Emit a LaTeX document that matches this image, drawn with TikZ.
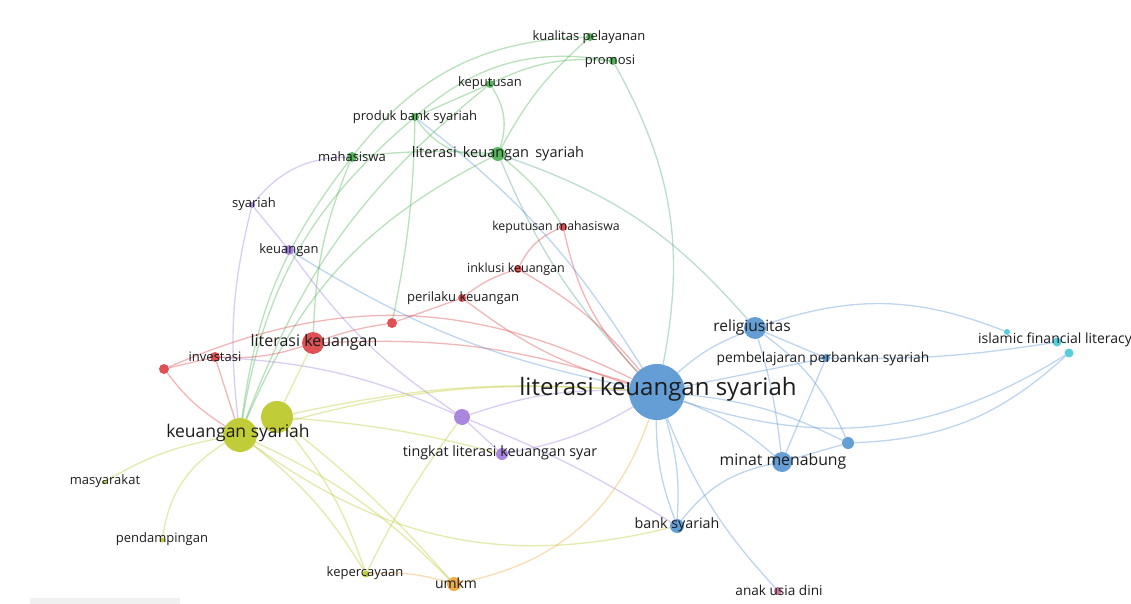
\documentclass[tikz,border=0pt]{standalone}
\usepackage{fontspec}
\setmainfont{Open Sans}
\usetikzlibrary{backgrounds}

\definecolor{vblue}{RGB}{84,146,208}
\definecolor{vgreen}{RGB}{70,175,76}
\definecolor{vred}{RGB}{218,62,66}
\definecolor{vpurple}{RGB}{160,122,220}
\definecolor{vyellow}{RGB}{186,198,36}
\definecolor{vorange}{RGB}{236,166,52}
\definecolor{vcyan}{RGB}{72,200,216}
\definecolor{vpink}{RGB}{196,112,150}
\definecolor{lbltext}{RGB}{28,28,28}

\begin{document}
\begin{tikzpicture}[x=1pt,y=-1pt]
\tikzstyle{kw}=[circle,inner sep=0pt,draw=none,opacity=0.9]
\tikzstyle{lbl}=[inner sep=0pt,text=lbltext,font=\fontsize{13}{13}\selectfont]
\tikzstyle{link}=[line width=1.3pt,opacity=0.38]
\useasboundingbox (0,0) rectangle (1131,604);

% green cluster
\node [kw,fill=vgreen,minimum size=8pt] (kual) at (590,37) {};
\node [kw,fill=vgreen,minimum size=8pt] (prom) at (613,61) {};
\node [kw,fill=vgreen,minimum size=8pt] (kep) at (490,84) {};
\node [kw,fill=vgreen,minimum size=8pt] (prod) at (415,117) {};
\node [kw,fill=vgreen,minimum size=10pt] (mhs) at (352,157) {};
\node [kw,fill=vgreen,minimum size=14pt] (lksg) at (498,154) {};
% purple cluster
\node [kw,fill=vpurple,minimum size=6pt] (sya) at (252,205) {};
\node [kw,fill=vpurple,minimum size=10pt] (keu) at (289,250) {};
\node [kw,fill=vpurple,minimum size=16pt] (pur) at (462,417) {};
\node [kw,fill=vpurple,minimum size=12pt] (tlks) at (502,454) {};
% red cluster
\node [kw,fill=vred,minimum size=8pt] (kmhs) at (563,227) {};
\node [kw,fill=vred,minimum size=8pt] (inkl) at (518,269) {};
\node [kw,fill=vred,minimum size=8pt] (peri) at (462,298) {};
\node [kw,fill=vred,minimum size=10pt] (red2) at (392,323) {};
\node [kw,fill=vred,minimum size=22pt] (litk) at (313,343) {};
\node [kw,fill=vred,minimum size=10pt] (inv) at (215,357) {};
\node [kw,fill=vred,minimum size=10pt] (red1) at (164,369) {};
% yellow and orange
\node [kw,fill=vyellow,minimum size=34pt] (ks) at (240,435) {};
\node [kw,fill=vyellow,minimum size=32pt] (ky) at (277,417) {};
\node [kw,fill=vyellow,minimum size=4pt] (masy) at (104,482) {};
\node [kw,fill=vyellow,minimum size=5pt] (pend) at (162,540) {};
\node [kw,fill=vyellow,minimum size=7pt] (kepc) at (366,574) {};
\node [kw,fill=vorange,minimum size=14pt] (umkm) at (454,584) {};
% blue cluster
\node [kw,fill=vblue,minimum size=56pt] (lks) at (657,392) {};
\node [kw,fill=vblue,minimum size=22pt] (rel) at (755,328) {};
\node [kw,fill=vblue,minimum size=8pt] (pemb) at (826,358) {};
\node [kw,fill=vblue,minimum size=20pt] (minat) at (782,462) {};
\node [kw,fill=vblue,minimum size=12pt] (bsm) at (848,443) {};
\node [kw,fill=vblue,minimum size=14pt] (bank) at (677,526) {};
\node [kw,fill=vpink,minimum size=8pt] (anak) at (778,591) {};
% cyan cluster
\node [kw,fill=vcyan,minimum size=6pt] (cy1) at (1007,332) {};
\node [kw,fill=vcyan,minimum size=9pt] (cy2) at (1057,342) {};
\node [kw,fill=vcyan,minimum size=9pt] (cy3) at (1069,353) {};

% labels
\node [lbl] (kualL) at (589,37) {kualitas pelayanan};
\node [lbl] (promL) at (610,61) {promosi};
\node [lbl] (kepL) at (490,83) {keputusan};
\node [lbl] (prodL) at (415,117) {produk bank syariah};
\node [lbl] (mhsL) at (352,157) {mahasiswa};
\node [lbl,font=\fontsize{14.5}{14.5}\selectfont] (lksgL) at (498,154) {literasi\, keuangan\, syariah};
\node [lbl] (syaL) at (254,204) {syariah};
\node [lbl] (keuL) at (289,250) {keuangan};
\node [lbl,font=\fontsize{14.3}{14.3}\selectfont] (tlksL) at (500,453) {tingkat literasi keuangan syar};
\node [lbl,font=\fontsize{12.3}{12.3}\selectfont] (kmhsL) at (556,227) {keputusan mahasiswa};
\node [lbl,font=\fontsize{12.5}{12.5}\selectfont] (inklL) at (516,269) {inklusi keuangan};
\node [lbl] (periL) at (463,298) {perilaku keuangan};
\node [lbl,font=\fontsize{16}{16}\selectfont] (litkL) at (314,342) {literasi keuangan};
\node [lbl] (invL) at (215,357) {investasi};
\node [lbl,font=\fontsize{17.5}{17.5}\selectfont] (ksL) at (238,433) {keuangan syariah};
\node [lbl] (masyL) at (105,481) {masyarakat};
\node [lbl] (pendL) at (162,539) {pendampingan};
\node [lbl] (kepcL) at (365,573) {kepercayaan};
\node [lbl,font=\fontsize{14}{14}\selectfont] (umkmL) at (456,583) {umkm};
\node [lbl,font=\fontsize{24}{24}\selectfont] (lksL) at (658,389) {literasi keuangan syariah};
\node [lbl,font=\fontsize{15.5}{15.5}\selectfont] (relL) at (752,327) {religiusitas};
\node [lbl,font=\fontsize{13.8}{13.8}\selectfont] (pembL) at (823,359) {pembelajaran perbankan syariah};
\node [lbl,font=\fontsize{15.8}{15.8}\selectfont] (minatL) at (783,461) {minat menabung};
\node [lbl,font=\fontsize{14.3}{14.3}\selectfont] (bankL) at (677,525) {bank syariah};
\node [lbl,font=\fontsize{13.6}{13.6}\selectfont] (anakL) at (779,590) {anak usia dini};
\node [lbl,font=\fontsize{14}{14}\selectfont] (cyL) at (1055,340) {islamic financial literacy};

\begin{scope}[on background layer]
% green links
\draw [link,vgreen] (kual) to[bend right=25] (mhs);
\draw [link,vgreen] (kual) to[bend right=10] (lksg);
\draw [link,vgreen] (prom) to[bend right=15] (kep);
\draw [link,vgreen] (prom) to[bend right=25] (prod);
\draw [link,vgreen!60!vblue] (prom) to[bend left=20] (lks);
\draw [link,vgreen] (kep) to[bend left=25] (lksg);
\draw [link,vgreen] (kep) -- (prod);
\draw [link,vgreen] (kep) to[bend right=15] (ks);
\draw [link,vgreen] (prod) to[bend right=30] (lksg);
\draw [link,vgreen] (prod) to[bend left=5] (red2);
\draw [link,vgreen] (prod) to[bend right=20] (ks);
\draw [link,vgreen] (mhs) to[bend left=5] (lksg);
\draw [link,vgreen] (mhs) to[bend right=15] (ks);
\draw [link,vgreen] (mhs) to[bend right=10] (litk);
\draw [link,vgreen!50!vblue] (lksg) to[bend left=15] (rel);
\draw [link,vgreen!50!vblue] (lksg) to[bend right=10] (lks);
\draw [link,vgreen] (lksg) to[bend right=20] (ks);
\draw [link,vgreen] (lksg) to[bend left=10] (kmhs);
% purple links
\draw [link,vpurple] (sya) -- (keu);
\draw [link,vpurple] (sya) to[bend left=25] (mhs);
\draw [link,vpurple] (sya) to[bend right=10] (ks);
\draw [link,vpurple] (keu) to[bend right=10] (pur);
\draw [link,vpurple] (pur) -- (tlks);
\draw [link,vpurple] (pur) to[bend left=10] (lks);
\draw [link,vpurple] (pur) to[bend left=5] (bank);
\draw [link,vpurple] (inv) to[bend left=10] (pur);
\draw [link,vpurple] (tlks) to[bend right=10] (lks);
% red links
\draw [link,vred] (kmhs) to[bend right=20] (inkl);
\draw [link,vred] (inkl) to[bend right=10] (peri);
\draw [link,vred] (peri) -- (red2);
\draw [link,vred] (red2) to[bend right=5] (litk);
\draw [link,vred] (litk) to[bend left=10] (inv);
\draw [link,vred] (inv) -- (red1);
\draw [link,vred] (red1) to[bend left=25] (lks);
\draw [link,vred] (kmhs) to[bend right=15] (lks);
\draw [link,vred] (inkl) to[bend left=10] (lks);
\draw [link,vred] (peri) to[bend right=10] (lks);
\draw [link,vred] (litk) to[bend left=10] (lks);
\draw [link,vred] (red1) to[bend right=10] (ks);
\draw [link,vred] (inv) -- (ks);
% yellow and orange links
\draw [link,vyellow] (ks) to[bend right=10] (masy);
\draw [link,vyellow] (ks) to[bend right=25] (pend);
\draw [link,vyellow] (ks) to[bend left=10] (kepc);
\draw [link,vyellow] (ky) to[bend left=10] (kepc);
\draw [link,vyellow] (ks) to[bend left=10] (umkm);
\draw [link,vyellow] (ky) to[bend left=5] (umkm);
\draw [link,vyellow] (ks) to[bend right=25] (bank);
\draw [link,vyellow] (ky) to[bend left=8] (lks);
\draw [link,vyellow] (ks) to[bend left=10] (lks);
\draw [link,vyellow] (ky) to[bend left=5] (tlks);
\draw [link,vyellow] (kepc) to[bend left=5] (pur);
\draw [link,vyellow] (ky) -- (litk);
\draw [link,vorange] (umkm) to[bend right=30] (lks);
\draw [link,vorange] (umkm) to[bend right=10] (kepc);
% blue links
\draw [link,vblue] (lks) to[bend left=10] (rel);
\draw [link,vblue] (lks) -- (pemb);
\draw [link,vblue] (lks) to[bend left=10] (minat);
\draw [link,vblue] (lks) to[bend left=10] (bsm);
\draw [link,vblue] (lks) to[bend left=10] (bank);
\draw [link,vblue] (lks) to[bend right=10] (bank);
\draw [link,vblue] (lks) to[bend right=10] (anak);
\draw [link,vblue] (lks) to[bend right=25] (cy3);
\draw [link,vblue] (lks) to[bend right=10] (prod);
\draw [link,vblue] (lks) to[bend left=10] (keu);
\draw [link,vblue] (rel) -- (pemb);
\draw [link,vblue] (rel) to[bend left=5] (minat);
\draw [link,vblue] (rel) to[bend left=15] (bsm);
\draw [link,vblue] (rel) to[bend left=20] (cy1);
\draw [link,vblue] (pemb) to[bend right=5] (cy2);
\draw [link,vblue] (pemb) -- (minat);
\draw [link,vblue] (bsm) to[bend right=20] (cy3);
\draw [link,vblue] (minat) to[bend right=20] (bank);
\draw [link,vblue] (minat) -- (bsm);
\end{scope}

\fill [gray!12] (30,598) rectangle (180,604);
\end{tikzpicture}
\end{document}
